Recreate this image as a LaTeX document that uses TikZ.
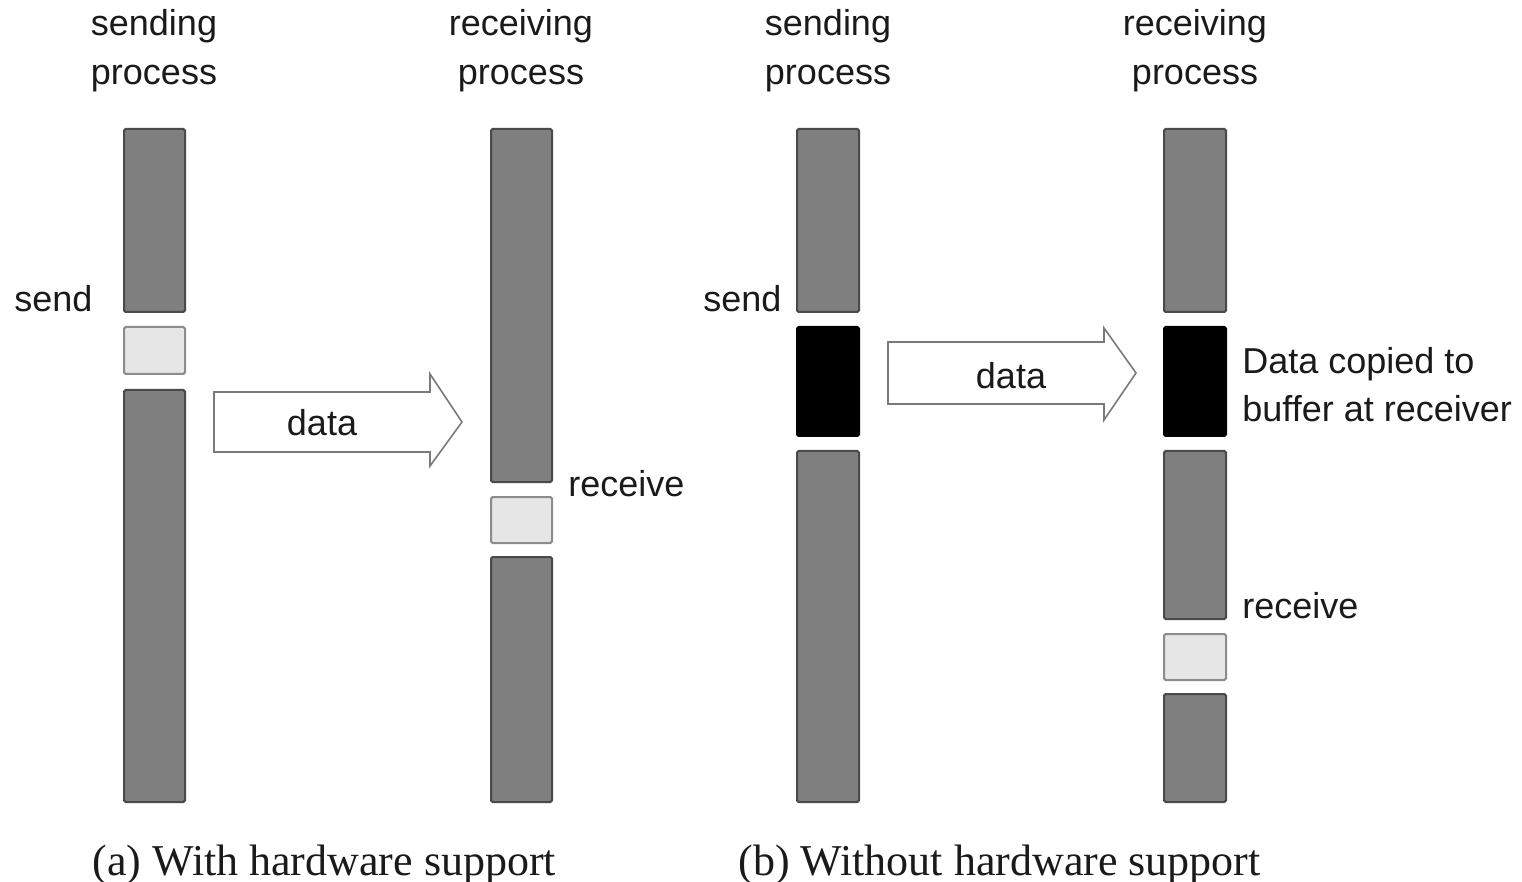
\documentclass[tikz,border=0pt]{standalone}
\usepackage{fontspec}
\setmainfont{Liberation Serif}
\setsansfont{Liberation Sans}
\usetikzlibrary{fit}
\definecolor{barfill}{HTML}{7F7F7F}
\definecolor{bardraw}{HTML}{4A4A4A}
\definecolor{lightfill}{HTML}{E6E6E6}
\definecolor{lightdraw}{HTML}{8C8C8C}
\definecolor{arrowdraw}{HTML}{7A7A7A}
\definecolor{txt}{HTML}{1A1A1A}
\begin{document}
\begin{tikzpicture}[x=0.5pt,y=-0.5pt,
  seg/.style={inner sep=0pt, line width=1pt, rounded corners=0.8pt},
  busy/.style={seg, fill=barfill, draw=bardraw},
  idle/.style={seg, fill=lightfill, draw=lightdraw},
  copybox/.style={seg, fill=black, draw=black},
  blockarrow/.style={draw=arrowdraw, fill=white, line width=0.8pt, line join=miter},
  lbl/.style={font=\sffamily\fontsize{18}{24.5}\selectfont, text=txt, inner sep=0pt},
  captext/.style={font=\rmfamily\fontsize{22}{26}\selectfont, text=txt, inner sep=0pt, anchor=base west}
]
\useasboundingbox (0,0) rectangle (1522,882);

% ---------- (a) with hardware support ----------
\node[busy, fit={(124,129)(185,312)}] (a1top) {};
\node[idle, fit={(124,327)(185,374)}] (a1idle) {};
\node[busy, fit={(124,390)(185,802)}] (a1bot) {};

\node[busy, fit={(491,129)(552,482)}] (a2top) {};
\node[idle, fit={(491,497)(552,543)}] (a2idle) {};
\node[busy, fit={(491,557)(552,802)}] (a2bot) {};

\draw[blockarrow] (214,392) -- (430,392) -- (430,374) -- (462,422) -- (430,466) -- (430,452) -- (214,452) -- cycle;
\node[lbl, anchor=base] (dataA) at (322,436) {data};

\node[lbl, anchor=base, align=center] (sendprocA) at (154,85) {sending\\process};
\node[lbl, anchor=base, align=center] (recvprocA) at (521,85) {receiving\\process};
\node[lbl, anchor=base west] (sendA) at (14,312) {send};
\node[lbl, anchor=base west] (recvA) at (568,496) {receive};

% ---------- (b) without hardware support ----------
\node[busy, fit={(797,129)(859,312)}] (b1top) {};
\node[copybox, fit={(797,327)(859,436)}] (b1copy) {};
\node[busy, fit={(797,451)(859,802)}] (b1bot) {};

\node[busy, fit={(1164,129)(1226,312)}] (b2top) {};
\node[copybox, fit={(1164,327)(1226,436)}] (b2copy) {};
\node[busy, fit={(1164,451)(1226,619)}] (b2mid) {};
\node[idle, fit={(1164,634)(1226,680)}] (b2idle) {};
\node[busy, fit={(1164,694)(1226,802)}] (b2bot) {};

\draw[blockarrow] (888,342) -- (1104,342) -- (1104,328) -- (1136,373) -- (1104,420) -- (1104,404) -- (888,404) -- cycle;
\node[lbl, anchor=base] (dataB) at (1011,389) {data};

\node[lbl, anchor=base, align=center] (sendprocB) at (828,85) {sending\\process};
\node[lbl, anchor=base, align=center] (recvprocB) at (1195,85) {receiving\\process};
\node[lbl, anchor=base west] (sendB) at (703,312) {send};
\node[lbl, anchor=base west, align=left] (copied) at (1242,422) {Data copied to\\buffer at receiver};
\node[lbl, anchor=base west] (recvB) at (1242,618) {receive};

% ---------- captions ----------
\node[captext] (capA) at (92,875) {(a) With hardware support};
\node[captext] (capB) at (738,875) {(b) Without hardware support};
\end{tikzpicture}
\end{document}
